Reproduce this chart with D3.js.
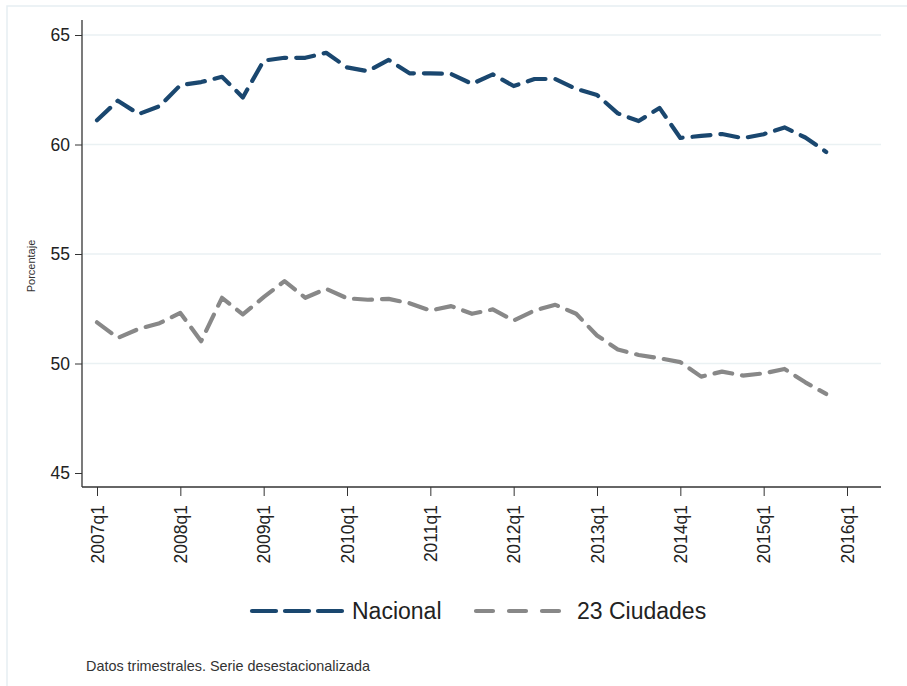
<!DOCTYPE html>
<html>
<head>
<meta charset="utf-8">
<script src="https://cdn.jsdelivr.net/npm/d3@7"></script>
<style>
  body { margin: 0; background: #fff; }
  svg { display: block; font-family: "Liberation Sans", Arial, sans-serif; }
</style>
</head>
<body>
<script>
"use strict";

// quarters 2007q1 .. 2015q4
const quarters = d3.range(36).map((i) => `${2007 + Math.floor(i / 4)}q${(i % 4) + 1}`);

const nacional = [
  61.11, 62.0, 61.39, 61.75,
  62.71, 62.85, 63.09, 62.15,
  63.83, 63.96, 63.96, 64.19,
  63.52, 63.35, 63.86, 63.25,
  63.25, 63.22, 62.77, 63.2,
  62.67, 62.99, 62.99, 62.54,
  62.26, 61.42, 61.07, 61.67,
  60.3, 60.39, 60.48, 60.29,
  60.47, 60.78, 60.32, 59.66
];

const ciudades = [
  51.88, 51.17, 51.58, 51.84,
  52.31, 51.02, 53.0, 52.24,
  53.03, 53.76, 53.0, 53.41,
  52.98, 52.91, 52.95, 52.75,
  52.42, 52.62, 52.27, 52.47,
  51.96, 52.42, 52.68, 52.27,
  51.28, 50.64, 50.39, 50.24,
  50.06, 49.4, 49.63, 49.45,
  49.55, 49.75, 49.14, 48.61
];

const seriesNames = ["Nacional", "23 Ciudades"];
const seriesColors = ["#1a476f", "#888888"];
const yTicks = [45, 50, 55, 60, 65];
const yGrid = [50, 55, 60, 65];
const xTickLabels = ["2007q1", "2008q1", "2009q1", "2010q1", "2011q1", "2012q1", "2013q1", "2014q1", "2015q1", "2016q1"];

const w = 907;
const h = 686;

const svg = d3.select("body").append("svg").attr("width", w).attr("height", h);

// outer frame (top + left edges visible)
svg.append("path")
  .attr("d", `M7,${h} V6 H${w}`)
  .attr("fill", "none")
  .attr("stroke", "#e6eef2")
  .attr("stroke-width", 1.5);

// scales: x in quarter index from 2007q1
const xScale = d3.scaleLinear().domain([0, 36]).range([97, 847]);
const yScale = d3.scaleLinear().domain([45, 65]).range([473, 35]);

const xLeft = 82;
const xRight = 881;
const yTop = 20;
const yBottom = 487;

// gridlines
svg.append("g")
  .selectAll("line")
  .data(yGrid)
  .enter()
  .append("line")
  .attr("x1", xLeft)
  .attr("x2", xRight)
  .attr("y1", (d) => yScale(d))
  .attr("y2", (d) => yScale(d))
  .attr("stroke", "#eaf1f3")
  .attr("stroke-width", 1.5);

// y axis
const yAxis = d3.axisLeft(yScale).tickValues(yTicks).tickSize(7).tickPadding(5);
svg.append("g")
  .attr("transform", `translate(${xLeft}, 0)`)
  .call(yAxis)
  .call((g) => g.select(".domain").remove())
  .call((g) => g.selectAll(".tick line").attr("stroke", "#333"))
  .call((g) => g.selectAll(".tick text")
    .attr("font-size", 17.5)
    .attr("font-family", "Liberation Sans, Arial, sans-serif")
    .attr("fill", "#222"));

svg.append("line")
  .attr("x1", xLeft).attr("x2", xLeft)
  .attr("y1", yTop).attr("y2", yBottom)
  .attr("stroke", "#333").attr("stroke-width", 1.3);

// x axis
const xAxis = d3.axisBottom(xScale)
  .tickValues(xTickLabels.map((d, i) => i * 4))
  .tickFormat((d, i) => xTickLabels[i])
  .tickSize(9);
svg.append("g")
  .attr("transform", `translate(0, ${yBottom})`)
  .call(xAxis)
  .call((g) => g.select(".domain").remove())
  .call((g) => g.selectAll(".tick line").attr("stroke", "#333"))
  .call((g) => g.selectAll(".tick text")
    .attr("font-size", 17.5)
    .attr("font-family", "Liberation Sans, Arial, sans-serif")
    .attr("fill", "#222")
    .attr("transform", "rotate(-90)")
    .attr("text-anchor", "end")
    .attr("x", -18)
    .attr("y", 0)
    .attr("dy", "0.35em"));

svg.append("line")
  .attr("x1", xLeft).attr("x2", xRight)
  .attr("y1", yBottom).attr("y2", yBottom)
  .attr("stroke", "#333").attr("stroke-width", 1.3);

// y label
svg.append("text")
  .attr("transform", "translate(35, 266) rotate(-90)")
  .attr("text-anchor", "middle")
  .attr("font-size", 11)
  .attr("fill", "#333")
  .text("Porcentaje");

// lines
const line = d3.line()
  .x((d, i) => xScale(i))
  .y((d) => yScale(d));

[nacional, ciudades].forEach((values, k) => {
  svg.append("path")
    .datum(values)
    .attr("fill", "none")
    .attr("stroke", seriesColors[k])
    .attr("stroke-width", 4.2)
    .attr("stroke-linecap", "round")
    .attr("stroke-linejoin", "round")
    .attr("stroke-dasharray", "18,10")
    .attr("d", line);
});

// legend
const legendItems = [
  { x: 252, len: 90, dash: "24,9", tx: 352 },
  { x: 476, len: 84, dash: "17,16", tx: 577 }
];
const legendY = 611;
legendItems.forEach((item, k) => {
  svg.append("line")
    .attr("x1", item.x).attr("x2", item.x + item.len)
    .attr("y1", legendY).attr("y2", legendY)
    .attr("stroke", seriesColors[k])
    .attr("stroke-width", 4.2)
    .attr("stroke-linecap", "round")
    .attr("stroke-dasharray", item.dash);
  svg.append("text")
    .attr("x", item.tx)
    .attr("y", legendY)
    .attr("dy", "0.36em")
    .attr("font-size", 23)
    .attr("fill", "#222")
    .text(seriesNames[k]);
});

// footnote
svg.append("text")
  .attr("x", 86)
  .attr("y", 671)
  .attr("font-size", 14.4)
  .attr("fill", "#333")
  .text("Datos trimestrales. Serie desestacionalizada");
</script>
</body>
</html>
